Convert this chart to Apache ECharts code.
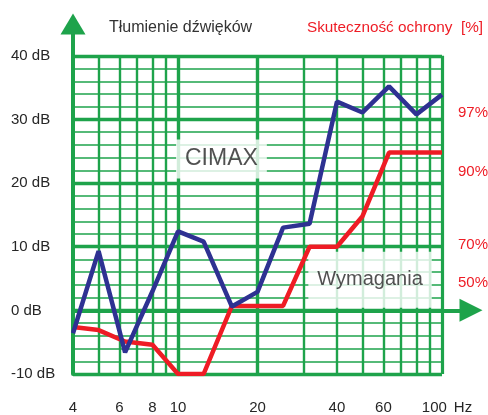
<!DOCTYPE html>
<html>
<head>
<meta charset="utf-8">
<script src="https://cdn.jsdelivr.net/npm/echarts@6/dist/echarts.min.js"></script>
<style>
  html, body { margin: 0; padding: 0; background: #ffffff; }
  #chart { width: 488px; height: 415px; }
</style>
</head>
<body>
<div id="chart"></div>
<script>
// ---- data ----
const freqs = [4, 5, 6.3, 8, 10, 12.5, 16, 20, 25, 31.5, 40, 50, 63, 80, 100];
const cimax = [-3.6, 9.3, -6.6, 3.0, 12.4, 10.8, 0.6, 2.9, 13.0, 13.6, 32.8, 31.1, 35.2, 30.8, 33.9];
const wymagania = [-2.6, -3.1, -4.9, -5.4, -10, -10, 0.7, 0.7, 0.7, 10, 10, 14.8, 24.8, 24.8, 24.8];
const xTickLabels = [4, 6, 8, 10, 20, 40, 60, 100];
const yTickLabels = [-10, 0, 10, 20, 30, 40];
const pctLevels = [31.1, 21.8, 10.3, 4.4];
const pctLabels = ['97%', '90%', '70%', '50%'];
const gridHz = [4, 5, 6, 7, 8, 9, 10, 20, 30, 40, 50, 60, 70, 80, 90, 100];
const gridDb = [-10, -8, -6, -4, -2, 0, 2, 4, 6, 8, 10, 12, 14, 16, 18, 20, 22, 24, 26, 28, 30, 32, 34, 36, 38, 40];

// ---- styles ----
const GREEN = '#1ea34b';
const BLUE = '#2e3192';
const RED = '#ee1c25';
const TEXT = '#262626';
const FONT = '"Liberation Sans", Arial, sans-serif';
const X_MIN = 4, X_MAX = 128.8;

const gridLines = [];
gridHz.forEach(function (f) {
  let w = 2.4;
  if (f === 10 || f === 20) w = 3.4;
  if (f === 100) w = 3.2;
  gridLines.push([
    { coord: [f, -10], lineStyle: { width: w, color: GREEN, type: 'solid' } },
    { coord: [f, 40] }
  ]);
});
gridDb.forEach(function (d) {
  const major = (d % 10 === 0);
  gridLines.push([
    { coord: [4, d], lineStyle: { width: major ? 3.4 : 1.7, color: GREEN, type: 'solid' } },
    { coord: [100, d] }
  ]);
});
// horizontal 0 dB axis with arrow
const zeroAxis = [[
  { coord: [X_MIN, 0], symbol: 'none', lineStyle: { width: 4, color: GREEN, type: 'solid' } },
  { coord: [X_MAX, 0], symbol: 'triangle', symbolSize: 23 }
]];

const chart = echarts.init(document.getElementById('chart'), null, { renderer: 'canvas' });
chart.setOption({
  animation: false,
  backgroundColor: '#ffffff',
  title: [
    { text: 'Tłumienie dźwięków', left: 109, top: 20, padding: 0,
      textStyle: { fontFamily: FONT, fontSize: 16, fontWeight: 'normal', color: '#333333' } },
    { text: 'Skuteczność ochrony  [%]', left: 307, top: 20, padding: 0,
      textStyle: { fontFamily: FONT, fontSize: 15.3, fontWeight: 'normal', color: RED } }
  ],
  grid: { left: 73, right: 17, top: 24, bottom: 41, containLabel: false, outerBoundsMode: 'none' },
  xAxis: {
    type: 'log', logBase: 10, min: X_MIN, max: X_MAX,
    axisLine: { show: false, onZero: false },
    axisTick: { show: false },
    splitLine: { show: false },
    minorSplitLine: { show: false },
    axisLabel: {
      show: true, customValues: xTickLabels, margin: 26,
      fontFamily: FONT, fontSize: 15, color: TEXT,
      formatter: function (v) { return v === 100 ? '{n|100}{h|Hz}' : String(v); },
      rich: {
        n: { fontFamily: FONT, fontSize: 15, color: TEXT, padding: [0, 0, 0, 10] },
        h: { fontFamily: FONT, fontSize: 15, color: TEXT, padding: [0, 0, 0, 7] }
      }
    }
  },
  yAxis: [
    {
      type: 'value', min: -10, max: 45,
      axisLine: { show: true, onZero: false, symbol: ['none', 'triangle'], symbolSize: [25, 21],
        lineStyle: { color: GREEN, width: 4 } },
      axisTick: { show: false },
      splitLine: { show: false },
      axisLabel: {
        customValues: yTickLabels, align: 'left', margin: 62,
        fontFamily: FONT, fontSize: 15, color: TEXT,
        formatter: function (v) { return v + ' dB'; }
      }
    },
    {
      type: 'value', min: -10, max: 45, position: 'right',
      axisLine: { show: false }, axisTick: { show: false }, splitLine: { show: false },
      axisLabel: {
        customValues: pctLevels, align: 'left', margin: -13,
        fontFamily: FONT, fontSize: 15, color: RED,
        formatter: function (v) {
          let best = 0;
          pctLevels.forEach(function (p, i) { if (Math.abs(p - v) < Math.abs(pctLevels[best] - v)) best = i; });
          return pctLabels[best];
        }
      }
    }
  ],
  series: [
    {
      type: 'line', name: 'grid', data: [], z: 1, silent: true,
      markLine: { silent: true, z: 1, symbol: ['none', 'none'], label: { show: false },
        emphasis: { disabled: true }, animation: false, data: gridLines }
    },
    {
      type: 'line', name: 'axis0', data: [], z: 2, silent: true,
      markLine: { silent: true, z: 2, symbol: ['none', 'triangle'], symbolSize: [1, 23], label: { show: false },
        emphasis: { disabled: true }, animation: false, data: zeroAxis,
        itemStyle: { color: GREEN } }
    },
    {
      type: 'scatter', name: 'labels', z: 3, silent: true, symbolSize: 0,
      data: [
        { value: [14.6, 23.8], label: { formatter: 'CIMAX', fontSize: 23, padding: [8, 9, 8, 9] } },
        { value: [53.4, 4.8], label: { formatter: 'Wymagania', fontSize: 20, padding: [17, 9, 19, 9] } }
      ],
      label: { show: true, position: 'inside', fontFamily: FONT, color: TEXT, backgroundColor: '#ffffff' }
    },
    {
      type: 'line', name: 'Wymagania', z: 6, symbol: 'none',
      data: freqs.map(function (f, i) { return [f, wymagania[i]]; }),
      lineStyle: { color: RED, width: 4.5 }
    },
    {
      type: 'line', name: 'CIMAX', z: 7, symbol: 'none',
      data: freqs.map(function (f, i) { return [f, cimax[i]]; }),
      lineStyle: { color: BLUE, width: 4.5 }
    }
  ]
});
</script>
</body>
</html>
